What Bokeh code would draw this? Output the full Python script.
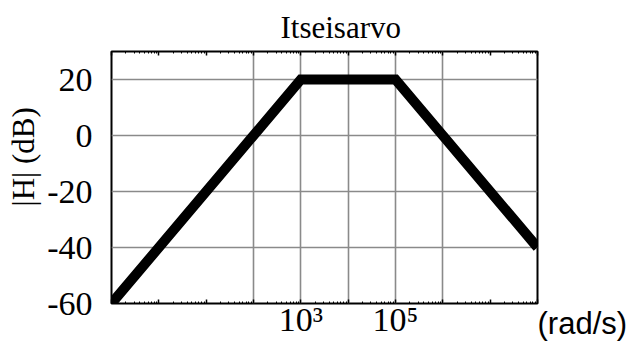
from bokeh.plotting import figure
from bokeh.models import FixedTicker, LogAxis, LinearAxis, Range1d, Title
from bokeh.embed import file_html
from bokeh.resources import INLINE

# ---- data ----
omega = [1e-1, 1e3, 1e5, 1e8]          # rad/s
gain_db = [-60, 20, 20, -40]           # |H| in dB
x_decades = list(range(-1, 9))         # tick marks at each decade
x_grid_decades = [2, 3, 4, 5, 6]       # decades that carry a grid line
x_label_decades = [3, 5]               # labelled decades
x_tick_labels = ["10\u00b3", "10\u2075"]
y_ticks = [-60, -40, -20, 0, 20]
y_tick_labels = ["-60", "-40", "-20", "0", "20"]
y_grid = [-40, -20, 0, 20]
title_text = "Itseisarvo"
y_label_text = "|H| (dB)"
x_unit_text = "(rad/s)"

SERIF = "Liberation Serif"
SANS = "Liberation Sans"

p = figure(width=639, height=341, x_axis_type="log",
           x_range=Range1d(1e-1, 1e8), y_range=Range1d(-60, 30),
           output_backend="svg", toolbar_location=None,
           min_border_left=111, min_border_right=102,
           min_border_top=50, min_border_bottom=38,
           background_fill_color="white", border_fill_color="white")

p.outline_line_color = "black"
p.outline_line_width = 2

major = [10.0 ** k for k in x_decades]
minor = [m * 10.0 ** k for k in x_decades[:-1] for m in range(2, 10)]

def style_xaxis(ax):
    ax.ticker = FixedTicker(ticks=major, minor_ticks=minor)
    ax.axis_line_color = None
    ax.major_tick_in = 4
    ax.major_tick_out = 0
    ax.minor_tick_in = 2
    ax.minor_tick_out = 0
    ax.major_tick_line_color = "black"
    ax.major_tick_line_width = 1.5
    ax.minor_tick_line_color = "black"

# bottom axis: decade ticks, labels only at 10^3 and 10^5
xa = p.xaxis[0]
style_xaxis(xa)
overrides = {t: "" for t in major}
for d, s in zip(x_label_decades, x_tick_labels):
    overrides[10.0 ** d] = s
xa.major_label_overrides = overrides
xa.major_label_standoff = -3
xa.major_label_text_font = SERIF
xa.major_label_text_font_size = "34px"
xa.major_label_text_color = "black"

# top axis: tick marks only
top_axis = LogAxis()
style_xaxis(top_axis)
top_axis.major_label_text_color = None
top_axis.major_label_text_font_size = "0px"
top_axis.major_label_standoff = 0
p.add_layout(top_axis, "above")

ya = p.yaxis[0]
ya.ticker = FixedTicker(ticks=y_ticks, minor_ticks=[])
ya.major_label_overrides = dict(zip(y_ticks, y_tick_labels))
ya.axis_line_color = None
ya.major_tick_in = 0
ya.major_tick_out = 0
ya.minor_tick_line_color = None
ya.major_label_standoff = 19
ya.major_label_text_font = SERIF
ya.major_label_text_font_size = "34px"
ya.major_label_text_color = "black"

# unit text right of the frame, just below the level of the bottom edge
unit_pos = y_ticks[0]
unit_axis = LinearAxis(ticker=FixedTicker(ticks=[unit_pos], minor_ticks=[]),
                       major_label_overrides={unit_pos: "\n" + x_unit_text},
                       major_label_text_font=SANS,
                       major_label_text_font_size="31px",
                       major_label_text_color="black",
                       major_label_standoff=0,
                       major_label_orientation="horizontal",
                       major_tick_in=0, major_tick_out=0,
                       axis_line_color=None, major_tick_line_color=None,
                       minor_tick_line_color=None)
p.add_layout(unit_axis, "right")

# y label
p.add_layout(Title(text=y_label_text, align="left", offset=97,
                   text_font=SERIF, text_font_size="31px",
                   text_font_style="normal", text_color="black",
                   standoff=7), "left")

p.title.text = title_text
p.title.text_font = SERIF
p.title.text_font_size = "31px"
p.title.text_font_style = "normal"
p.title.text_color = "black"
p.title.align = "left"
p.title.offset = 169
p.title.standoff = 14

p.xgrid[0].ticker = FixedTicker(ticks=[10.0 ** k for k in x_grid_decades])
p.ygrid[0].ticker = FixedTicker(ticks=y_grid)
for g in (p.xgrid[0], p.ygrid[0]):
    g.grid_line_color = "#8a8a8a"
    g.grid_line_width = 1.6
    g.grid_line_alpha = 1.0

p.line(omega, gain_db, line_color="black", line_width=10,
       line_join="miter", line_cap="butt")

open("out.html", "w").write(file_html(p, INLINE))
